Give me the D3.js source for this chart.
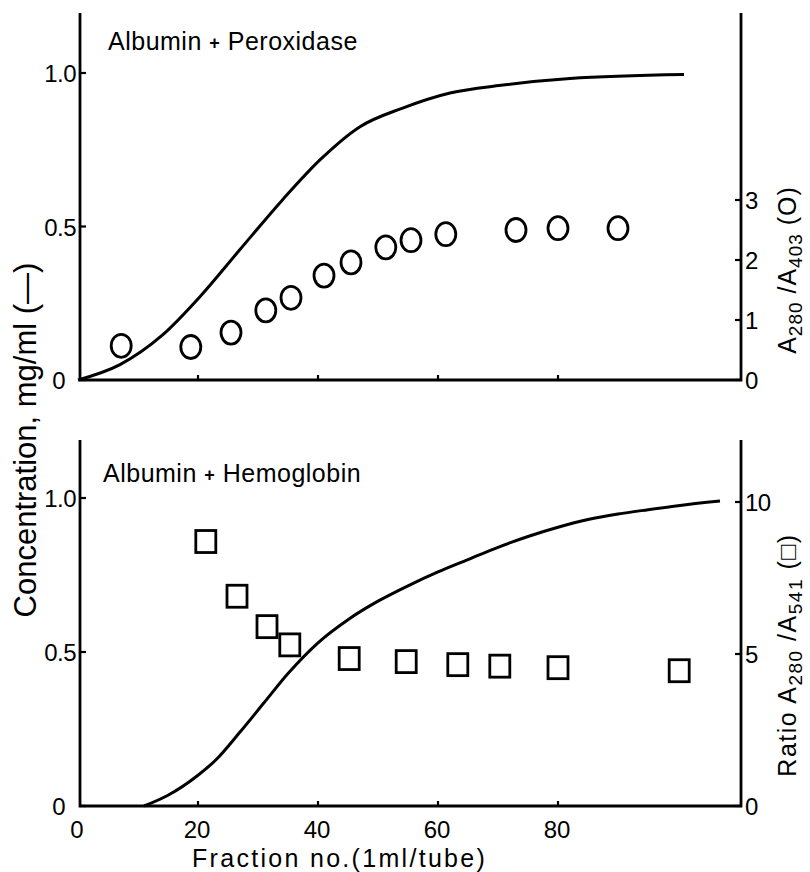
<!DOCTYPE html>
<html><head><meta charset="utf-8">
<script src="https://cdn.jsdelivr.net/npm/d3@7"></script>
<style>
html,body{margin:0;padding:0;background:#fff;}
svg text{font-family:"Liberation Sans",Arial,sans-serif;fill:#000;}
</style></head>
<body><svg id="c" width="810" height="872"></svg>
<script>
// ---------- data ----------
const xTicks = [0, 20, 40, 60, 80];
const concTicks = [0, 0.5, 1.0];
const concTickLabels = ["0", "0.5", "1.0"];
const peroxRatioTicks = [0, 1, 2, 3];
const hemoRatioTicks = [0, 5, 10];

// top panel: Albumin + Peroxidase
const peroxCurveFraction = [0, 7, 14, 20.5, 27, 34, 40.5, 47, 54, 62, 70.5, 82, 101];
const peroxCurveConc     = [0, 0.05, 0.145, 0.275, 0.425, 0.585, 0.72, 0.825, 0.885, 0.935, 0.96, 0.982, 0.995];
const peroxPointFraction = [7.2, 18.8, 25.5, 31.3, 35.5, 41, 45.5, 51.3, 55.5, 61.3, 73, 80, 90];
const peroxPointRatio    = [0.57, 0.55, 0.79, 1.16, 1.37, 1.74, 1.96, 2.21, 2.33, 2.43, 2.50, 2.53, 2.53];

// bottom panel: Albumin + Hemoglobin
const hemoCurveFraction = [11, 15, 20, 23, 27, 31, 35, 40, 45, 50, 55, 60, 65, 70, 75, 80, 85, 90, 95, 100, 107];
const hemoCurveConc     = [0, 0.035, 0.10, 0.15, 0.24, 0.335, 0.43, 0.53, 0.605, 0.665, 0.715, 0.76, 0.80, 0.84, 0.875, 0.905, 0.93, 0.948, 0.962, 0.975, 0.99];
const hemoPointFraction = [21.3, 26.5, 31.5, 35.3, 45.2, 54.7, 63.3, 70.3, 80, 100.2];
const hemoPointRatio    = [8.7, 6.9, 5.9, 5.3, 4.85, 4.75, 4.65, 4.6, 4.55, 4.45];

// ---------- drawing ----------
const svg = d3.select("#c");
const x = d3.scaleLinear().domain([0, 110.5]).range([78, 741]);

const panels = [
  {title: "Peroxidase", yTop: 13, yL: d3.scaleLinear().domain([0, 1]).range([380, 73]),
   yR: d3.scaleLinear().domain([0, 1]).range([380, 320]), rTicks: peroxRatioTicks,
   cf: peroxCurveFraction, cc: peroxCurveConc, pf: peroxPointFraction, pr: peroxPointRatio,
   shape: "circle", titleY: 50, titleX: 108},
  {title: "Hemoglobin", yTop: 440, yL: d3.scaleLinear().domain([0, 1]).range([806, 498]),
   yR: d3.scaleLinear().domain([0, 10]).range([806, 502]), rTicks: hemoRatioTicks,
   cf: hemoCurveFraction, cc: hemoCurveConc, pf: hemoPointFraction, pr: hemoPointRatio,
   shape: "square", titleY: 482, titleX: 103}
];

panels.forEach((p) => {
  const g = svg.append("g");
  const y0 = p.yL(0);
  const xL = x(0) + 2, xR = x.range()[1];
  g.append("path").attr("d", `M${xL},${p.yTop}V${y0}H${xR}V${p.yTop}`)
    .attr("fill", "none").attr("stroke", "#000").attr("stroke-width", 2.8);
  // left axis ticks & labels
  const lt = g.selectAll(".lt").data(concTicks).enter();
  lt.append("line").attr("x1", xL).attr("x2", xL + 6)
    .attr("y1", d => p.yL(d)).attr("y2", d => p.yL(d)).attr("stroke", "#000").attr("stroke-width", 2.2);
  lt.append("text").attr("x", (d, k) => k === 0 ? xL - 15 : xL - 4).attr("y", d => p.yL(d) + 9)
    .attr("text-anchor", "end").attr("font-size", 24).attr("letter-spacing", -0.5)
    .text((d, k) => concTickLabels[k]);
  // right axis ticks & labels
  const rt = g.selectAll(".rt").data(p.rTicks).enter();
  rt.append("line").attr("x1", xR - 6).attr("x2", xR)
    .attr("y1", d => p.yR(d)).attr("y2", d => p.yR(d)).attr("stroke", "#000").attr("stroke-width", 2.2);
  rt.append("text").attr("x", xR + 4).attr("y", d => p.yR(d) + 9)
    .attr("font-size", 24).attr("letter-spacing", -0.5).text(d => d);
  // x ticks
  g.selectAll(".xt").data(xTicks.slice(1)).enter().append("line")
    .attr("x1", d => x(d)).attr("x2", d => x(d)).attr("y1", y0).attr("y2", y0 - 5)
    .attr("stroke", "#000").attr("stroke-width", 2.2);
  // title
  const t = g.append("text").attr("x", p.titleX).attr("y", p.titleY).attr("font-size", 25).attr("letter-spacing", 0.5);
  t.append("tspan").text("Albumin ");
  t.append("tspan").attr("font-size", 18).attr("font-weight", "bold").attr("dy", -1).text("+");
  t.append("tspan").attr("dy", 1).text(" " + p.title);
  // curve
  const pts = p.cf.map((f, k) => [f, p.cc[k]]);
  g.append("path").datum(pts)
    .attr("d", d3.line().x(d => x(d[0])).y(d => p.yL(d[1])).curve(d3.curveMonotoneX))
    .attr("fill", "none").attr("stroke", "#000").attr("stroke-width", 3);
  // markers
  const mk = p.pf.map((f, k) => [f, p.pr[k]]);
  if (p.shape === "circle") {
    g.selectAll(".m").data(mk).enter().append("ellipse")
      .attr("cx", d => x(d[0])).attr("cy", d => p.yR(d[1])).attr("rx", 10).attr("ry", 11.5)
      .attr("fill", "none").attr("stroke", "#000").attr("stroke-width", 2.8);
  } else {
    g.selectAll(".m").data(mk).enter().append("rect")
      .attr("x", d => x(d[0]) - 10).attr("y", d => p.yR(d[1]) - 11).attr("width", 20).attr("height", 22)
      .attr("fill", "none").attr("stroke", "#000").attr("stroke-width", 2.8);
  }
});

// x tick labels (bottom)
svg.selectAll(".xl").data(xTicks).enter().append("text")
  .attr("x", d => x(d) - 1).attr("y", 838).attr("text-anchor", "middle")
  .attr("font-size", 24).text(d => d);

// x title
svg.append("text").attr("x", 192).attr("y", 867)
  .attr("font-size", 25).attr("letter-spacing", 2.3).text("Fraction  no.(1ml/tube)");

// left title
svg.append("text").attr("transform", "translate(36,440) rotate(-90)").attr("text-anchor", "middle")
  .attr("font-size", 31).text("Concentration,  mg/ml (\u2014)");

// right titles
function rightTitle(cx, cy, pre, sub2, sym, ls) {
  const t = svg.append("text").attr("transform", `translate(${cx},${cy}) rotate(-90)`)
    .attr("text-anchor", "middle").attr("font-size", 25).attr("letter-spacing", ls);
  if (pre) t.append("tspan").text(pre);
  t.append("tspan").text("A");
  t.append("tspan").attr("font-size", 19).attr("dy", 6).text("280");
  t.append("tspan").attr("dy", -6).text(" /A");
  t.append("tspan").attr("font-size", 19).attr("dy", 6).text(sub2);
  t.append("tspan").attr("dy", -6).text(" (" + sym + ")");
}
rightTitle(796, 270, null, "403", "O", 1);
rightTitle(796, 655, "Ratio  ", "541", "\u25A1", 1.5);
</script></body></html>
